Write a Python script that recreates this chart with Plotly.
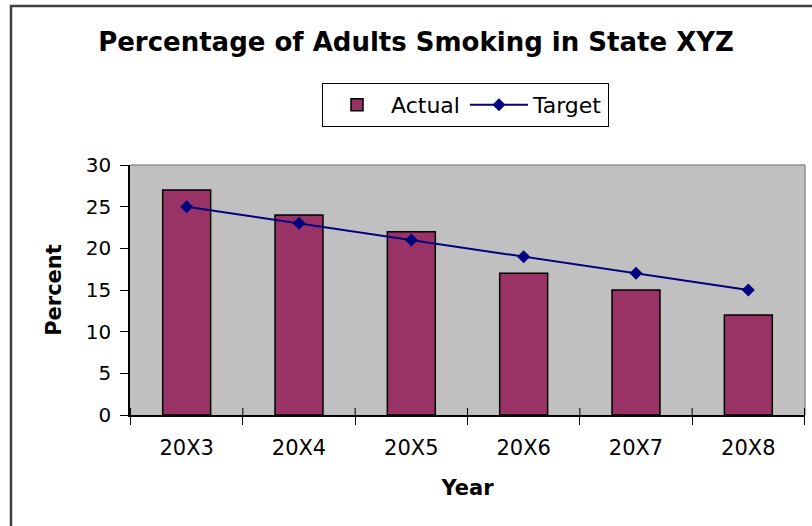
import plotly.graph_objects as go

years = ["20X3", "20X4", "20X5", "20X6", "20X7", "20X8"]
actual = [27, 24, 22, 17, 15, 12]
target = [25, 23, 21, 19, 17, 15]

FONT = "DejaVu Sans"

fig = go.Figure()
fig.add_trace(go.Bar(
    x=years, y=actual, name="Actual",
    marker=dict(color="#993366", line=dict(color="#000000", width=1.5)),
))
fig.add_trace(go.Scatter(
    x=years, y=target, name="Target", mode="lines+markers",
    line=dict(color="#000080", width=2),
    marker=dict(symbol="diamond", size=10, color="#000080"),
))

# plot area in pixels: x 130..805, y 165..415
L, R, T, B = 130, 805, 165, 415
W, H = 812, 526
pw, ph = R - L, B - T

def px(x):
    return (x - L) / pw

def py(y):
    return (B - y) / ph

shapes = [
    # outer chart border (left & top visible)
    dict(type="rect", xref="paper", yref="paper", x0=px(11), x1=px(830), y0=py(540), y1=py(6),
         line=dict(color="#404040", width=2.5), layer="below"),
    # plot area border top / right (gray)
    dict(type="line", xref="paper", yref="paper", x0=0, x1=1, y0=1, y1=1,
         line=dict(color="#909090", width=1.5)),
    dict(type="line", xref="paper", yref="paper", x0=1, x1=1, y0=0, y1=1,
         line=dict(color="#909090", width=1.5)),
]
# inside part of the crossing category-boundary ticks
for i in range(len(years) + 1):
    shapes.append(dict(type="line", xref="x", yref="paper", x0=i - 0.5, x1=i - 0.5,
                       y0=0, y1=7 / ph, line=dict(color="#000000", width=1)))

fig.update_layout(
    width=W, height=H,
    margin=dict(l=L, r=W - R, t=T, b=H - B, pad=0),
    paper_bgcolor="#ffffff",
    plot_bgcolor="#c0c0c0",
    font=dict(family=FONT, color="#000000"),
    title=dict(text="<b>Percentage of Adults Smoking in State XYZ</b>",
               font=dict(family=FONT, size=26, color="#000000"),
               xref="container", x=416 / W, xanchor="center",
               yref="container", y=1 - 42 / H, yanchor="middle"),
    bargap=0.573,
    showlegend=True,
    legend=dict(orientation="h", x=px(322), y=py(83), xanchor="left", yanchor="top",
                bordercolor="#000000", borderwidth=1, bgcolor="#ffffff",
                font=dict(family=FONT, size=22, color="#000000"),
                itemwidth=58),
    shapes=shapes,
    xaxis=dict(
        type="category", tickson="boundaries", ticks="outside", ticklen=8,
        tickcolor="#000000", tickwidth=1,
        showline=True, linecolor="#000000", linewidth=1.5,
        showgrid=False, zeroline=False,
        tickfont=dict(family=FONT, size=21, color="#000000"),
        ticklabelstandoff=13,
        title=dict(text="<b>Year</b>", font=dict(family=FONT, size=21, color="#000000"),
                   standoff=21),
    ),
    yaxis=dict(
        range=[0, 30], dtick=5, ticks="outside", ticklen=8,
        tickcolor="#000000", tickwidth=1,
        showline=True, linecolor="#000000", linewidth=1.5,
        showgrid=False, zeroline=False,
        tickfont=dict(family=FONT, size=20, color="#000000"),
        ticklabelstandoff=5,
        title=dict(text="<b>Percent</b>", font=dict(family=FONT, size=21, color="#000000"),
                   standoff=18),
    ),
)

fig.write_html("out.html")
